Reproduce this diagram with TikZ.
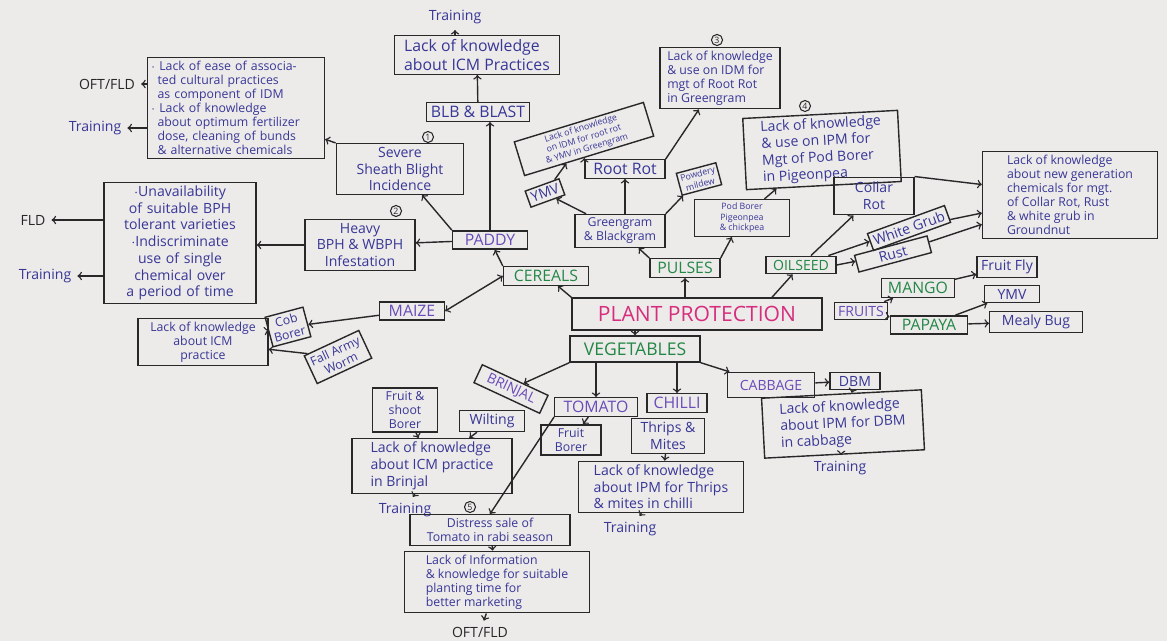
\documentclass[tikz,border=0pt]{standalone}
\usepackage{fontspec}
\setmainfont{Open Sans}
\usetikzlibrary{positioning}

\definecolor{paper}{RGB}{237,234,234}
\definecolor{pencil}{RGB}{40,40,40}
\definecolor{ink}{RGB}{55,55,150}
\definecolor{cropink}{RGB}{105,75,185}
\definecolor{leaf}{RGB}{35,135,70}
\definecolor{rose}{RGB}{215,45,125}

\tikzset{
  box/.style={rectangle, draw=pencil, line width=0.8pt, inner sep=2pt, align=center, font=\footnotesize, text=ink},
  smallbox/.style={box, font=\scriptsize},
  head/.style={box, font=\small, text=leaf},
  crop/.style={box, font=\small, text=cropink},
  note/.style={font=\footnotesize, text=ink},
  numb/.style={circle, draw=pencil, line width=0.6pt, inner sep=0.6pt, font=\tiny, text=pencil},
  link/.style={->, line width=0.8pt, draw=pencil}
}

\begin{document}
\begin{tikzpicture}[x=0.02cm, y=-0.02cm]
				% paper
				\fill[paper] (0,0) rectangle (1167,641);
				\useasboundingbox (0,0) rectangle (1167,641);

				% Centre rectangle
				\node[box, text=rose, font=\large, minimum width=5cm, minimum height=0.64cm] (pp) at (697,314) {PLANT PROTECTION};

				% Groups
				\node[head, minimum width=1.7cm] (cereals) at (546,276) {CEREALS};
				\node[head, minimum width=1.4cm] (pulses) at (685,268) {PULSES};
				\node[head, font=\footnotesize, minimum width=1.4cm] (oilseed) at (801,265) {OILSEED};
				\node[head, font=\normalsize, minimum width=2.6cm, minimum height=0.52cm] (veg) at (635,349) {VEGETABLES};
				\node[crop, font=\footnotesize] (fruits) at (861,311) {FRUITS};

				% Crops
				\node[crop, minimum width=1.5cm] (paddy) at (490,240) {PADDY};
				\node[crop, minimum width=1.3cm] (maize) at (412,311) {MAIZE};
				\node[crop, font=\footnotesize, rotate=-25, minimum width=1.45cm] (brinjal) at (511,389) {BRINJAL};
				\node[crop, minimum width=1.65cm] (tomato) at (596,407) {TOMATO};
				\node[crop, minimum width=1.2cm] (chilli) at (677,403) {CHILLI};
				\node[crop, font=\footnotesize, minimum width=1.75cm, minimum height=0.5cm] (cabbage) at (771,385) {CABBAGE};
				\node[head, minimum width=1.45cm] (mango) at (918,288) {MANGO};
				\node[head, minimum width=1.55cm] (papaya) at (929,325) {PAPAYA};

				% Paddy branch
				\node[box, minimum width=2.55cm] (sheath) at (400,169) {Severe\\ Sheath Blight\\ Incidence};
				\node[numb] (n1) at (428,137) {1};
				\node[smallbox, align=left, text width=3.4cm] (idmbox) at (236,108) {$\cdot$ Lack of ease of associa-\\ \hspace*{1ex}ted cultural practices\\ \hspace*{1ex}as component of IDM\\ $\cdot$ Lack of knowledge\\ \hspace*{1ex}about optimum fertilizer\\ \hspace*{1ex}dose, cleaning of bunds\\ \hspace*{1ex}\& alternative chemicals};
				\node[note, text=pencil] (oftA) at (107,84) {OFT/FLD};
				\node[note] (trA) at (95,128) {Training};
				\node[box, minimum width=2.2cm] (bph) at (360,245) {Heavy\\ BPH \& WBPH\\ Infestation};
				\node[numb] (n2) at (396,211) {2};
				\node[box, text width=2.9cm] (bphbox) at (180,243) {$\cdot$Unavailability\\ of suitable BPH\\ tolerant varieties\\ $\cdot$Indiscriminate\\ use of single\\ chemical over\\ a period of time};
				\node[note, text=pencil] (fld) at (33,220) {FLD};
				\node[note] (trB) at (45,276) {Training};
				\node[box, font=\small, minimum width=2.05cm] (blb) at (478,112) {BLB \& BLAST};
				\node[box, font=\small, align=left, minimum width=3.3cm] (icmA) at (477,55) {Lack of knowledge\\ about ICM Practices};
				\node[note] (trTop) at (455,17) {Training};

				% Maize branch
				\node[smallbox, rotate=15] (cob) at (288,327) {Cob\\ Borer};
				\node[smallbox, rotate=25] (faw) at (338,357) {Fall Army\\ Worm};
				\node[smallbox, minimum width=2.6cm, minimum height=0.95cm] (icmM) at (203,342) {Lack of knowledge\\ about ICM\\ practice};

				% Pulses branch
				\node[smallbox, minimum width=1.8cm] (gram) at (620,231) {Greengram\\ \& Blackgram};
				\node[box, font=\small, minimum width=1.6cm] (rootrot) at (625,169) {Root Rot};
				\node[box, rotate=20] (ymvg) at (545,193) {YMV};
				\node[box, font=\tiny, rotate=15, inner sep=1.5pt] (pm) at (699,179) {Powdery\\ mildew};
				\node[box, font=\tiny, rotate=17, inner sep=1.5pt, minimum width=2.7cm] (idmgg) at (584,139) {Lack of knowledge\\ on IDM for root rot\\ \& YMV in Greengram};
				\node[smallbox, align=left, minimum width=2.4cm] (rrbox) at (720,78) {Lack of knowledge\\ \& use on IDM for\\ mgt of Root Rot\\ in Greengram};
				\node[numb] (n3) at (717,40) {3};
				\node[box, font=\tiny, minimum width=1.9cm] (podborer) at (742,218) {Pod Borer\\ Pigeonpea\\ \& chickpea};
				\node[box, rotate=3, align=left, minimum width=3.1cm, minimum height=1.35cm] (pbbox) at (822,150) {Lack of knowledge\\ \& use on IPM for\\ Mgt of Pod Borer\\ in Pigeonpea};
				\node[numb] (n4) at (805,106) {4};

				% Oilseed branch
				\node[box, minimum width=1.6cm, minimum height=0.75cm] (collar) at (874,196) {Collar\\ Rot};
				\node[box, rotate=20] (grub) at (909,228) {White Grub};
				\node[box, rotate=15, minimum width=1.5cm] (rust) at (893,254) {Rust};
				\node[smallbox, align=left, minimum width=3.5cm] (gnbox) at (1070,195) {Lack of knowledge\\ about new generation\\ chemicals for mgt.\\ of Collar Rot, Rust\\ \& white grub in\\ Groundnut};

				% Fruits branch
				\node[box, minimum width=1.2cm] (fruitfly) at (1007,267) {Fruit Fly};
				\node[box, minimum width=1.1cm] (ymvp) at (1012,294) {YMV};
				\node[box, minimum width=1.85cm] (mealy) at (1036,322) {Mealy Bug};

				% Cabbage and chilli
				\node[box, minimum width=1cm] (dbm) at (855,381) {DBM};
				\node[box, rotate=3, align=left, minimum width=3.2cm, minimum height=1.2cm] (dbmbox) at (843,424) {Lack of knowledge\\ about IPM for DBM\\ in cabbage};
				\node[note] (trDbm) at (840,468) {Training};
				\node[box, minimum width=1.45cm] (thrips) at (668,436) {Thrips \&\\ Mites};
				\node[box, align=left, minimum width=3.3cm] (chbox) at (661,487) {Lack of knowledge\\ about IPM for Thrips\\ \& mites in chilli};
				\node[note] (trCh) at (630,529) {Training};

				% Tomato and brinjal
				\node[smallbox, minimum width=1.2cm] (fborer) at (571,440) {Fruit\\ Borer};
				\node[smallbox, minimum width=1.3cm] (fsb) at (405,410) {Fruit \&\\ shoot\\ Borer};
				\node[box, minimum width=1.3cm] (wilt) at (492,421) {Wilting};
				\node[box, align=left, minimum width=3.2cm] (brbox) at (432,466) {Lack of knowledge\\ about ICM practice\\ in Brinjal};
				\node[note] (trBr) at (405,510) {Training};
				\node[smallbox, minimum width=3.2cm] (distress) at (490,530) {Distress sale of\\ Tomato in rabi season};
				\node[numb] (n5) at (470,507) {5};
				\node[smallbox, align=left, minimum width=3.7cm] (infobox) at (497,582) {Lack of Information\\ \& knowledge for suitable\\ planting time for\\ better marketing};
				\node[note, text=pencil] (oftB) at (480,632) {OFT/FLD};

				% Arrows from the centre
				\draw[link] (pp.north west) -- (cereals);
				\draw[link] (pp.north -| pulses) -- (pulses);
				\draw[link] ([xshift=1.5cm]pp.north) -- (oilseed);
				\draw[link] (pp.south -| veg) -- (veg);

				% Cereals
				\draw[link] (cereals.north west) -- (paddy);
				\draw[<->, line width=0.8pt, draw=pencil] (cereals.west) -- (maize.east);
				\draw[link] (paddy.north) -- (paddy.north |- blb.south);
				\draw[link] (blb) -- (icmA);
				\draw[link] (icmA.north -| trTop) -- (trTop);
				\draw[link] (paddy.north west) -- (sheath);
				\draw[link] (sheath.north west) -- (idmbox);
				\draw[link] (oftA.east -| idmbox.west) -- (oftA);
				\draw[link] (trA.east -| idmbox.west) -- (trA);
				\draw[link] (paddy) -- (bph);
				\draw[link] (bph) -- (bph -| bphbox.east);
				\draw[link] (fld.east -| bphbox.west) -- (fld);
				\draw[link] (trB.east -| bphbox.west) -- (trB);
				\draw[link] (maize) -- (cob);
				\draw[link] (cob) -- (icmM);
				\draw[link] (faw) -- (icmM);

				% Pulses
				\draw[link] (pulses.north west) -- (gram);
				\draw[link] (pulses.north east) -- (podborer);
				\draw[link] (gram) -- (ymvg);
				\draw[link] (gram.north -| rootrot) -- (rootrot);
				\draw[link] (gram.north east) -- (pm);
				\draw[link] (ymvg) -- (idmgg);
				\draw[link] (rootrot.north west) -- (idmgg);
				\draw[link] (rootrot.north east) -- (rrbox);
				\draw[link] (podborer) -- (pbbox);

				% Oilseed
				\draw[link] (oilseed) -- (collar);
				\draw[link] (oilseed) -- (grub);
				\draw[link] (oilseed.east) -- (rust);
				\draw[link] (collar.north east) -- (gnbox);
				\draw[link] (grub) -- (gnbox);
				\draw[link] (rust) -- (gnbox);

				% Fruits
				\draw[link] (fruits) -- (mango);
				\draw[link] (fruits) -- (papaya);
				\draw[link] (mango) -- (fruitfly);
				\draw[link] (papaya) -- (ymvp);
				\draw[link] (papaya) -- (mealy);

				% Vegetables
				\draw[link] (veg.south west) -- (brinjal);
				\draw[link] (veg.south -| tomato) -- (tomato);
				\draw[link] (veg.south -| chilli) -- (chilli);
				\draw[link] (veg.south east) -- (cabbage);
				\draw[link] (cabbage) -- (dbm);
				\draw[link] (dbm) -- (dbmbox);
				\draw[link] (dbmbox) -- (trDbm);
				\draw[link] (thrips) -- (chbox);
				\draw[link] (chbox) -- (trCh);
				\draw[link] (tomato) -- (fborer);
				\draw[link] (tomato.south west) -- (distress.north);
				\draw[link] (distress) -- (infobox);
				\draw[link] (infobox) -- (oftB);
				\draw[link] (fsb) -- (brbox);
				\draw[link] (wilt) -- (brbox);
				\draw[link] (brbox) -- (trBr);
			\end{tikzpicture}
\end{document}
